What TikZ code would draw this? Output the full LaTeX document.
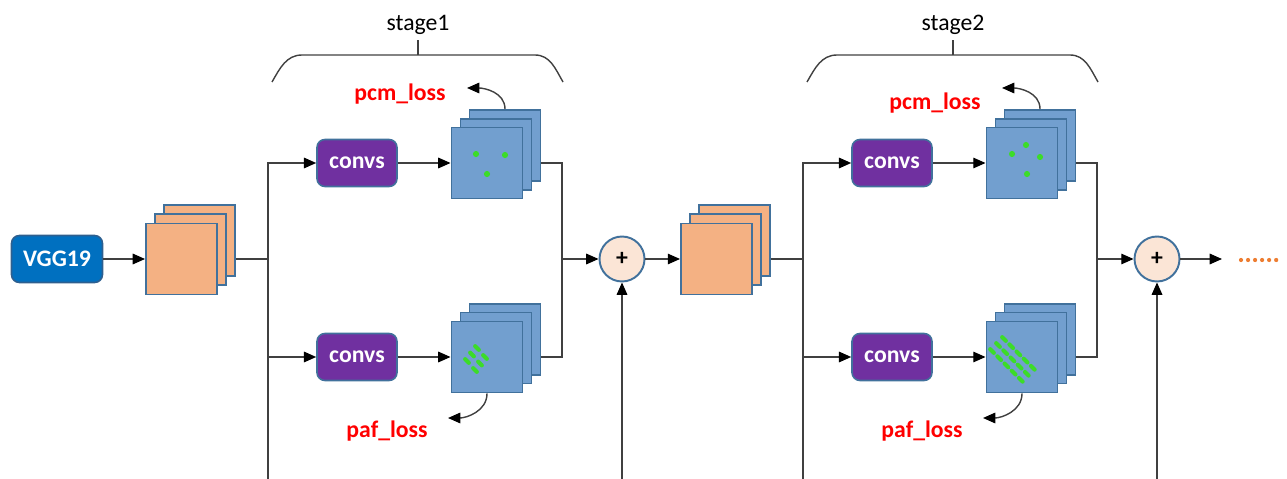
\documentclass[tikz,border=0pt]{standalone}
\usepackage{fontspec}
\setmainfont{Carlito}
\usetikzlibrary{arrows.meta}

\definecolor{vggblue}{HTML}{0070C0}
\definecolor{vggline}{HTML}{2E5F8F}
\definecolor{convpurple}{HTML}{7030A0}
\definecolor{boxline}{HTML}{41719C}
\definecolor{featorange}{HTML}{F4B183}
\definecolor{mapblue}{HTML}{729FCF}
\definecolor{addfill}{HTML}{FBE5D6}
\definecolor{linkgray}{HTML}{404040}
\definecolor{dotgreen}{HTML}{3CDC28}
\definecolor{moreorange}{HTML}{ED7D31}

\tikzset{
  txt/.style={font=\fontsize{13.5}{16}\selectfont},
  vgg/.style={txt, rounded corners=4.5pt, fill=vggblue, draw=vggline, line width=0.9pt,
    text=white, font=\fontsize{13.5}{16}\selectfont\bfseries, minimum width=1.82cm, minimum height=0.94cm},
  conv/.style={txt, rounded corners=4.5pt, fill=convpurple, draw=boxline, line width=0.9pt,
    text=white, font=\fontsize{13.5}{16}\selectfont\bfseries, minimum width=1.6cm, minimum height=0.94cm},
  feat/.style={fill=featorange, draw=boxline, line width=1.1pt, minimum size=1.42cm, inner sep=0pt},
  fmap/.style={fill=mapblue, draw=boxline, line width=1.1pt, minimum size=1.42cm, inner sep=0pt},
  add/.style={circle, fill=addfill, draw=boxline, line width=1.1pt, minimum size=0.9cm, inner sep=0pt,
    font=\fontsize{13.5}{16}\selectfont\bfseries},
  loss/.style={txt, text=red, font=\fontsize{13.5}{16}\selectfont\bfseries},
  link/.style={draw=linkgray, line width=0.8pt},
  arr/.style={link, -{Triangle[length=7pt, width=6pt, black]}},
  keypt/.style={fill=dotgreen, draw=none, circle, minimum size=3.5pt, inner sep=0pt},
  limb/.style={draw=dotgreen, line width=2.4pt, line cap=round},
}

\begin{document}
\begin{tikzpicture}[x=0.02cm, y=-0.02cm]
    \useasboundingbox (0,0) rectangle (1287,479);

    % Backbone
    \node[vgg] (vgg) at (57,259) {VGG19};

    % Both stages
    \foreach \st/\dx/\py in {1/0/94, 2/535/103} {
    \begin{scope}[shift={(\dx,0)}]
        % input features
        \node[feat] (featc\st) at (199.5,240.5) {};
        \node[feat] (featb\st) at (190.5,249.5) {};
        \node[feat] (feata\st) at (181.5,259) {};

        % branches
        \node[conv] (convu\st) at (357,163) {convs};
        \node[conv] (convd\st) at (357,357) {convs};

        \node[fmap] (pcmc\st) at (505,145.5) {};
        \node[fmap] (pcmb\st) at (496,154.5) {};
        \node[fmap] (pcma\st) at (487,163) {};

        \node[fmap] (pafc\st) at (505,339.5) {};
        \node[fmap] (pafb\st) at (496,348) {};
        \node[fmap] (pafa\st) at (487,357) {};

        \node[add] (add\st) at (622,259) {+};

        \coordinate (split\st) at (268,259);
        \coordinate (bot\st) at (268,479);
        \coordinate (merge\st) at (562,259);

        \draw[link] (feata\st -| featc\st.east) -- (split\st);
        \draw[arr] (bot\st) |- (convu\st);
        \draw[arr] (split\st |- convd\st) -- (convd\st);
        \draw[arr] (convu\st) -- (pcma\st);
        \draw[arr] (convd\st) -- (pafa\st);
        \draw[link] (pcma\st -| pcmc\st.east) -| (merge\st) |- (pafa\st -| pafc\st.east);
        \draw[arr] (merge\st) -- (add\st);
        \draw[arr] (add\st |- bot\st) -- (add\st);

        % losses
        \node[loss] (pcm\st) at (400,\py) {pcm\_loss};
        \node[loss] (paf\st) at (387,431) {paf\_loss};
        \coordinate (pcmend\st) at (467,88);
        \coordinate (pafend\st) at (448,418);
        \draw[arr] (pcmc\st.north) to[out=90,in=0] (pcmend\st);
        \draw[arr] (pafa\st.south) to[out=-90,in=0] (pafend\st);

        % stage brace
        \node[txt] (stage\st) at (418,25) {stage\st};
        \draw[link] (272,82) to[out=60,in=180] (302,55) -- (535,55) to[out=0,in=120] (563,82);
        \draw[link] (418,55) -- (418,40);
    \end{scope}
    }

    \draw[arr] (vgg) -- (feata1);
    \draw[arr] (add1) -- (feata2);
    \coordinate (out) at (1222,259);
    \draw[arr] (add2) -- (out);
    \draw[moreorange, line width=2.4pt, line cap=round, dash pattern=on 0pt off 4pt] (1241,260) -- (1282,260);

    % Keypoints
    \foreach \px/\pyy in {476/154, 505/155, 487/174, 1026/145, 1012/154, 1040/157, 1027/174}
        \node[keypt] at (\px,\pyy) {};

    % Limbs
    \foreach \i in {0,1,2}
        \foreach \j in {0,1}
            \draw[limb] ({477-5*\i+8*\j-1.8},{348+6.5*\i+9*\j-1.8}) -- ++(3.6,3.6);
    \foreach \i in {0,1,2}
        \foreach \j in {0,...,4}
            \draw[limb] ({1004-6*\i+7.2*\j-1.8},{339+6*\i+7.2*\j-1.8}) -- ++(3.6,3.6);

\end{tikzpicture}
\end{document}
